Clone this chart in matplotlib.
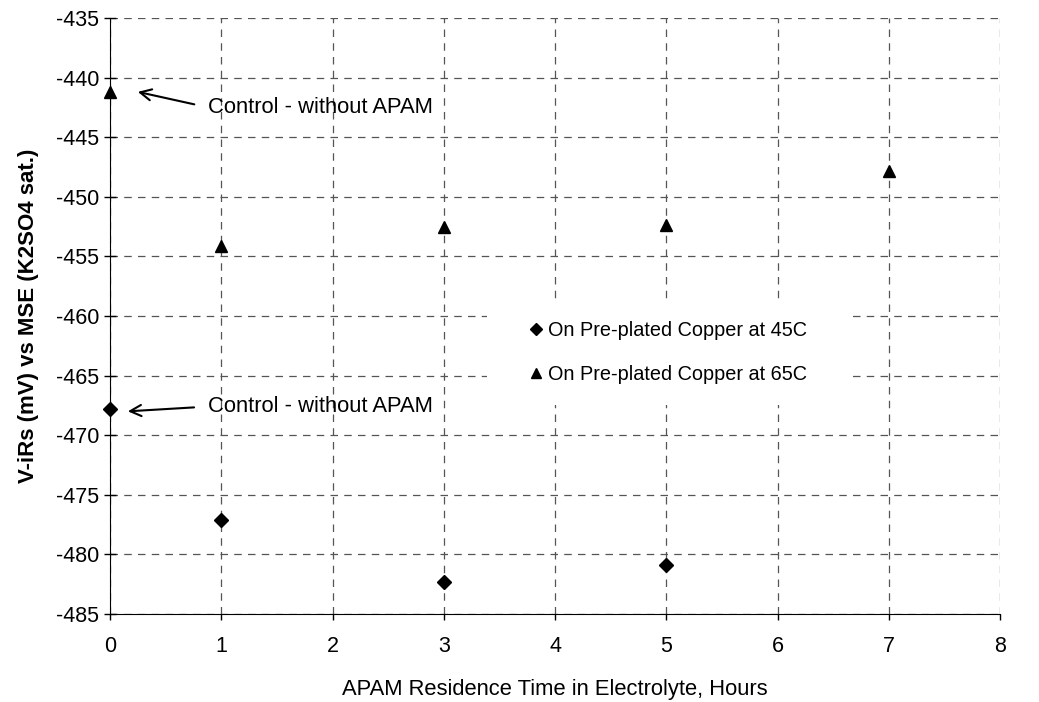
import matplotlib.pyplot as plt
from matplotlib.lines import Line2D
from matplotlib.patches import Rectangle

plt.rcParams['font.family'] = ['Liberation Sans', 'DejaVu Sans']
plt.rcParams['axes.unicode_minus'] = False

# Data
horas_45 = [0, 1, 3, 5]
v_45 = [-467.8, -477.1, -482.3, -480.9]
horas_65 = [0, 1, 3, 5, 7]
v_65 = [-441.2, -454.1, -452.5, -452.4, -447.8]

xticks = list(range(0, 9))
yticks = list(range(-485, -434, 5))
series_labels = ['On Pre-plated Copper at 45C', 'On Pre-plated Copper at 65C']

fig = plt.figure(figsize=(10.39, 7.02), dpi=100)
ax = fig.add_axes([0.1059, 0.1254, 0.8566, 0.849])

ax.plot(horas_45, v_45, 'D', color='black', markersize=7.5, zorder=3, clip_on=False)
ax.plot(horas_65, v_65, '^', color='black', markersize=8.5, zorder=3, clip_on=False)

ax.set_xlim(0, 8)
ax.set_ylim(-485, -435)
ax.set_xticks(xticks)
ax.set_yticks(yticks)
ax.tick_params(axis='y', labelsize=15.5, direction='inout', length=8, width=1, pad=4)
ax.tick_params(axis='x', labelsize=15.5, direction='out', length=4, width=1, pad=12)
ax.grid(True, color='#555555', linestyle=(0, (6, 5)), linewidth=0.9)
ax.spines['top'].set_visible(False)
ax.spines['right'].set_visible(False)

ax.set_xlabel('APAM Residence Time in Electrolyte, Hours', fontsize=15.8, labelpad=16)
ax.set_ylabel('V-iRs (mV) vs MSE (K2SO4 sat.)', fontsize=16, fontweight='bold', labelpad=12)

# anotações
ax.annotate('Control - without APAM', xy=(0.25, -441.2), xytext=(0.88, -442.5),
            fontsize=15.8, va='center', ha='left',
            arrowprops=dict(arrowstyle='->', color='black', lw=1.5, shrinkA=8, shrinkB=0,
                            mutation_scale=20, relpos=(0, 0.5)))
ax.annotate('Control - without APAM', xy=(0.16, -468.0), xytext=(0.88, -467.6),
            fontsize=15.8, va='center', ha='left',
            arrowprops=dict(arrowstyle='->', color='black', lw=1.5, shrinkA=8, shrinkB=0,
                            mutation_scale=20, relpos=(0, 0.5)))

# fundo branco da legenda
ax.add_patch(Rectangle((0.4236, 0.3507), 0.4056, 0.1761, transform=ax.transAxes,
                       facecolor='white', edgecolor='none', zorder=2))

handles = [Line2D([], [], marker='D', color='black', linestyle='none', markersize=6.5),
           Line2D([], [], marker='^', color='black', linestyle='none', markersize=7.5)]
leg = ax.legend(handles, series_labels, loc='upper left', bbox_to_anchor=(0.4697, 0.4916),
                frameon=False, fontsize=14.3, borderpad=0, borderaxespad=0,
                handletextpad=0.2, labelspacing=1.25, handlelength=0.8)
leg.set_zorder(4)

fig.savefig('out.png', dpi=100)
